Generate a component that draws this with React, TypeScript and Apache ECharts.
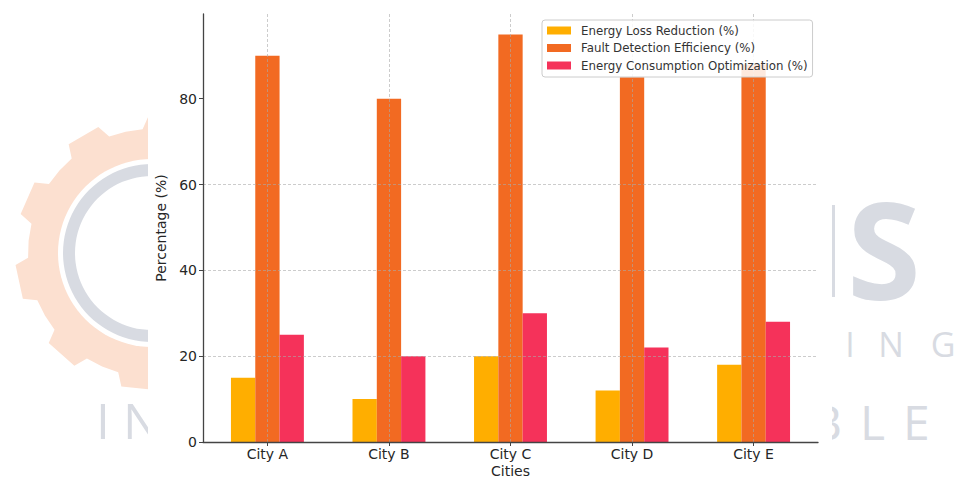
import React, { useEffect, useRef } from "react";
import * as echarts from "echarts";

const categories = ["City A", "City B", "City C", "City D", "City E"];
const seriesNames = [
  "Energy Loss Reduction (%)",
  "Fault Detection Efficiency (%)",
  "Energy Consumption Optimization (%)",
];
const energyLossReduction = [15, 10, 20, 12, 18];
const faultDetectionEfficiency = [90, 80, 95, 85, 88];
const energyConsumptionOptimization = [25, 20, 30, 22, 28];
const yTickValues = [0, 20, 40, 60, 80];
const colors = ["#FFAE00", "#F26A22", "#F5325A"];

const FONT = "DejaVu Sans";

function gearPoints(cx: number, cy: number, rOut: number, rBase: number, teeth: number) {
  const pts: number[][] = [];
  const p = (Math.PI * 2) / teeth;
  for (let i = 0; i < teeth; i++) {
    const a = i * p + 0.1;
    const seq: [number, number][] = [
      [0, rBase],
      [0.22, rBase],
      [0.3, rOut],
      [0.7, rOut],
      [0.78, rBase],
    ];
    seq.forEach(([f, r]) => {
      const ang = a + f * p;
      pts.push([cx + r * Math.cos(ang), cy + r * Math.sin(ang)]);
    });
  }
  return pts;
}

export default function App() {
  const ref = useRef<HTMLDivElement>(null);
  useEffect(() => {
    if (!ref.current) return;
    const chart = echarts.init(ref.current, null, { renderer: "svg" });
    const wm = "#D8DBE2";
    const wmFont = "Open Sans";
    const letter = (t: string, x: number, y: number, fs: number, weight: any = 400, align = "center") => ({
      type: "text",
      z: -10,
      silent: true,
      style: {
        text: t,
        x,
        y,
        fill: wm,
        font: `${weight} ${fs}px "${wmFont}"`,
        lineHeight: Math.round(fs * 0.75),
        textAlign: align,
        textVerticalAlign: "middle",
      },
    });
    const unit = 615 / 5.06;
    const grid1Left = 203 + (0.53 - 0.5) * unit;
    const grid1Width = 5 * unit;
    const barW = 0.2 * unit;
    const yMax = 99.75;

    const option: any = {
      animation: false,
      backgroundColor: "#ffffff",
      textStyle: { fontFamily: FONT },
      graphic: [
        {
          type: "polygon",
          z: -10,
          silent: true,
          shape: { points: gearPoints(152, 253, 137, 124, 10) },
          style: { fill: "#FCE0D0" },
        },
        { type: "circle", z: -9, silent: true, shape: { cx: 152, cy: 253, r: 94 }, style: { fill: "#ffffff" } },
        { type: "ring", z: -8, silent: true, shape: { cx: 152, cy: 253, r: 89, r0: 77 }, style: { fill: wm } },
        letter("I", 103, 420, 50),
        letter("N", 123, 420, 50, 400, "left"),
        { type: "rect", z: -10, silent: true, shape: { x: 831, y: 205, width: 4, height: 92 }, style: { fill: wm } },
        letter("S", 884, 248, 134, 700),
        letter("I", 850, 344, 34),
        letter("N", 891, 344, 34),
        letter("G", 943, 344, 34),
        letter("B", 842, 421, 48, 400, "right"),
        letter("L", 860, 421, 48, 400, "left"),
        letter("E", 903, 421, 48, 400, "left"),
        {
          type: "rect",
          z: -5,
          silent: true,
          shape: { x: 148, y: 0, width: 684, height: 477 },
          style: { fill: "#ffffff" },
        },
      ],
      legend: {
        data: seriesNames,
        orient: "vertical",
        left: 542,
        top: 20,
        z: 20,
        itemWidth: 24,
        itemHeight: 8,
        itemGap: 4.5,
        icon: "rect",
        padding: [4, 5, 5, 5],
        backgroundColor: "rgba(255,255,255,0.85)",
        borderColor: "#cccccc",
        borderWidth: 1,
        borderRadius: 3,
        textStyle: {
          fontFamily: FONT,
          fontSize: 11.8,
          color: "#333333",
          lineHeight: 13,
          padding: [0, 0, 0, 5],
        },
      },
      grid: [
        { left: 203, top: 14, width: 615, height: 428, outerBoundsMode: "none", containLabel: false },
        { left: grid1Left, top: 14, width: grid1Width, height: 428, outerBoundsMode: "none", containLabel: false },
      ],
      xAxis: [
        {
          type: "value",
          gridIndex: 0,
          min: -0.53,
          max: 4.53,
          minInterval: 1,
          maxInterval: 1,
          z: 10,
          axisLine: { show: true, onZero: false, lineStyle: { color: "#444444", width: 1.3 } },
          axisTick: { show: false },
          axisLabel: { show: false },
          splitLine: {
            show: true,
            showMinLine: false,
            showMaxLine: false,
            lineStyle: { color: "rgba(170,170,170,0.75)", width: 0.8, type: [3, 2] },
          },
          name: "Cities",
          nameLocation: "middle",
          nameGap: 22,
          nameTextStyle: { fontFamily: FONT, fontSize: 14, color: "#262626" },
        },
        {
          type: "category",
          gridIndex: 1,
          data: categories,
          z: 10,
          axisLine: { show: false },
          axisTick: { show: true, alignWithLabel: true, length: 4, lineStyle: { color: "#444444", width: 1 } },
          axisLabel: { fontFamily: FONT, fontSize: 14, color: "#262626", margin: 5 },
          splitLine: { show: false },
        },
      ],
      yAxis: [
        {
          type: "value",
          gridIndex: 0,
          min: 0,
          max: yMax,
          interval: 20,
          z: 10,
          axisLine: { show: true, onZero: false, lineStyle: { color: "#444444", width: 1.3 } },
          axisTick: { show: true, length: 4, customValues: yTickValues, lineStyle: { color: "#444444", width: 1 } },
          axisLabel: {
            fontFamily: FONT,
            fontSize: 14,
            color: "#262626",
            margin: 6,
            customValues: yTickValues,
          },
          splitLine: {
            show: true,
            showMinLine: false,
            showMaxLine: false,
            lineStyle: { color: "rgba(170,170,170,0.75)", width: 0.8, type: [3, 2] },
          },
          name: "Percentage (%)",
          nameLocation: "middle",
          nameGap: 23,
          nameTextStyle: { fontFamily: FONT, fontSize: 14, color: "#262626" },
        },
        {
          type: "value",
          gridIndex: 1,
          min: 0,
          max: yMax,
          show: false,
        },
      ],
      series: [
        { name: seriesNames[0], data: energyLossReduction, color: colors[0] },
        { name: seriesNames[1], data: faultDetectionEfficiency, color: colors[1] },
        { name: seriesNames[2], data: energyConsumptionOptimization, color: colors[2] },
      ].map((s) => ({
        type: "bar",
        name: s.name,
        data: s.data,
        xAxisIndex: 1,
        yAxisIndex: 1,
        barWidth: barW,
        barGap: "0%",
        itemStyle: { color: s.color },
      })),
    };
    chart.setOption(option);
    return () => chart.dispose();
  }, []);
  return (
    <div
      ref={ref}
      style={{ position: "fixed", left: 0, top: 0, width: 955, height: 477 }}
    />
  );
}
